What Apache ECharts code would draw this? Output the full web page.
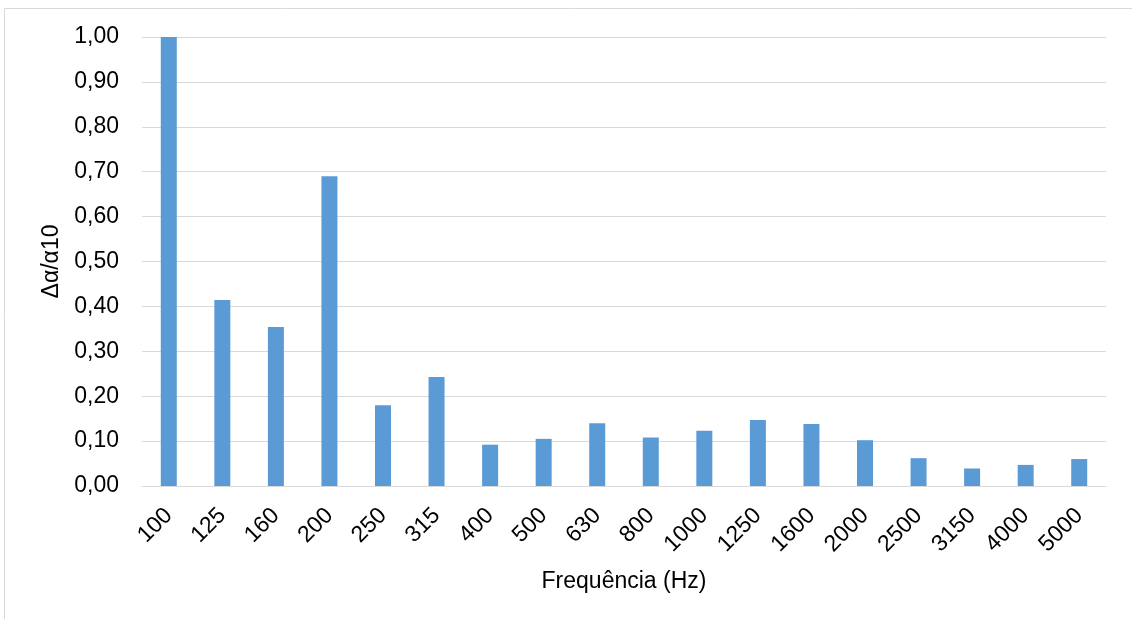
<!DOCTYPE html>
<html>
<head>
<meta charset="utf-8">
<script src="https://cdn.jsdelivr.net/npm/echarts@6/dist/echarts.min.js"></script>
<style>
html,body{margin:0;padding:0;background:#fff;}
#chart{width:1132px;height:619px;}
</style>
</head>
<body>
<div id="chart"></div>
<script>
const categories = ['100','125','160','200','250','315','400','500','630','800','1000','1250','1600','2000','2500','3150','4000','5000'];
const values = [1.00,0.414,0.354,0.690,0.180,0.243,0.092,0.105,0.140,0.108,0.123,0.147,0.138,0.102,0.062,0.039,0.047,0.060];
const yTicks = [0,0.1,0.2,0.3,0.4,0.5,0.6,0.7,0.8,0.9,1.0];
const xTitle = 'Frequência (Hz)';
const yTitle = 'Δα/α10';

const chart = echarts.init(document.getElementById('chart'));
const font = 'Liberation Sans, Arial, sans-serif';
chart.setOption({
  animation: false,
  backgroundColor: '#fff',
  graphic: [{
    type: 'rect',
    shape: {x: 4.5, y: 8.5, width: 1200, height: 700},
    style: {fill: 'none', stroke: '#d9d9d9', lineWidth: 1},
    silent: true
  }],
  grid: {left: 142, right: 26, top: 37, bottom: 133},
  xAxis: {
    type: 'category',
    data: categories,
    name: xTitle,
    nameLocation: 'middle',
    nameGap: 84,
    nameTextStyle: {fontFamily: font, fontSize: 23, color: '#000'},
    axisLine: {lineStyle: {color: '#d9d9d9', width: 1}},
    axisTick: {show: false},
    axisLabel: {rotate: 45, margin: 26, fontFamily: font, fontSize: 23, color: '#000', interval: 0}
  },
  yAxis: {
    type: 'value',
    min: yTicks[0],
    max: yTicks[yTicks.length - 1],
    interval: 0.1,
    name: yTitle,
    nameLocation: 'middle',
    nameGap: 78,
    nameTextStyle: {fontFamily: font, fontSize: 23, color: '#000'},
    axisLine: {show: false},
    axisTick: {show: false},
    splitLine: {lineStyle: {color: '#d9d9d9', width: 1}},
    axisLabel: {
      margin: 23,
      fontFamily: font, fontSize: 23, color: '#000',
      formatter: v => v.toFixed(2).replace('.', ',')
    }
  },
  series: [{
    type: 'bar',
    data: values,
    barWidth: 16,
    itemStyle: {color: '#5b9bd5'}
  }]
});
</script>
</body>
</html>
